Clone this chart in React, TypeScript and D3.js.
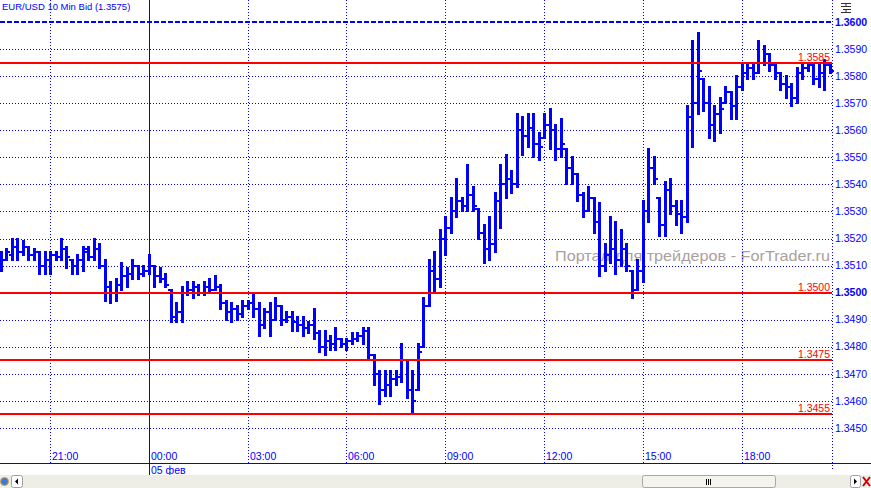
import React from 'react';
import * as d3 from 'd3';

const WIDTH = 871;
const HEIGHT = 488;

// 10 minute EUR/USD bars, 4 Feb 19:30 .. 5 Feb 20:40
const START = new Date(2013, 1, 4, 19, 30);
const BAR_MINUTES = 10;

const highs = [
    1.3515, 1.3516, 1.3520, 1.3520, 1.3519, 1.3517, 1.3516, 1.3515, 1.3515, 1.3515,
    1.3515, 1.3520, 1.3517, 1.3512, 1.3514, 1.3517, 1.3517, 1.3520, 1.3518, 1.3512,
    1.3504, 1.3505, 1.3511, 1.3509, 1.3512, 1.3510, 1.3510, 1.3514, 1.3510, 1.3509,
    1.3507, 1.3501, 1.3496, 1.3502, 1.3504, 1.3504, 1.3503, 1.3504, 1.3505, 1.3506,
    1.3503, 1.3497, 1.3496, 1.3495, 1.3497, 1.3497, 1.3499, 1.3496, 1.3494, 1.3496,
    1.3498, 1.3495, 1.3493, 1.3493, 1.3491, 1.3491, 1.3489, 1.3494, 1.3486, 1.3486,
    1.3484, 1.3487, 1.3483, 1.3483, 1.3485, 1.3485, 1.3487, 1.3487, 1.3477, 1.3471,
    1.3471, 1.3471, 1.3471, 1.3481, 1.3475, 1.3471, 1.3481, 1.3498, 1.3512, 1.3515,
    1.3523, 1.3528, 1.3535, 1.3542, 1.3535, 1.3547, 1.3539, 1.3531, 1.3525, 1.3528,
    1.3537, 1.3547, 1.3551, 1.3545, 1.3566, 1.3565, 1.3566, 1.3566, 1.3559, 1.3566,
    1.3568, 1.3562, 1.3564, 1.3553, 1.3550, 1.3544, 1.3537, 1.3539, 1.3535, 1.3533,
    1.3518, 1.3528, 1.3526, 1.3523, 1.3518, 1.3508, 1.3512, 1.3534, 1.3553, 1.3550,
    1.3535, 1.3541, 1.3542, 1.3534, 1.3534, 1.3569, 1.3593, 1.3596, 1.3579, 1.3576,
    1.3569, 1.3572, 1.3576, 1.3574, 1.3580, 1.3584, 1.3585, 1.3585, 1.3593, 1.3591,
    1.3588, 1.3585, 1.3581, 1.3580, 1.3577, 1.3583, 1.3585, 1.3585, 1.3584, 1.3584,
    1.3586, 1.3585,
];

const lows = [
    1.3508, 1.3512, 1.3512, 1.3512, 1.3514, 1.3512, 1.3512, 1.3507, 1.3507, 1.3507,
    1.3512, 1.3512, 1.3509, 1.3507, 1.3507, 1.3508, 1.3512, 1.3512, 1.3509, 1.3497,
    1.3496, 1.3497, 1.3501, 1.3502, 1.3505, 1.3505, 1.3506, 1.3507, 1.3502, 1.3504,
    1.3502, 1.3489, 1.3489, 1.3489, 1.3499, 1.3498, 1.3499, 1.3499, 1.3500, 1.3501,
    1.3494, 1.3490, 1.3489, 1.3490, 1.3491, 1.3494, 1.3491, 1.3484, 1.3487, 1.3484,
    1.3490, 1.3488, 1.3489, 1.3486, 1.3486, 1.3484, 1.3485, 1.3483, 1.3478, 1.3477,
    1.3479, 1.3479, 1.3480, 1.3479, 1.3481, 1.3482, 1.3481, 1.3475, 1.3466, 1.3459,
    1.3462, 1.3462, 1.3466, 1.3467, 1.3461, 1.3455, 1.3464, 1.3480, 1.3495, 1.3500,
    1.3502, 1.3514, 1.3522, 1.3528, 1.3530, 1.3530, 1.3530, 1.3520, 1.3511, 1.3512,
    1.3515, 1.3524, 1.3535, 1.3537, 1.3539, 1.3551, 1.3554, 1.3550, 1.3549, 1.3557,
    1.3553, 1.3549, 1.3550, 1.3540, 1.3540, 1.3534, 1.3528, 1.3530, 1.3522, 1.3506,
    1.3508, 1.3511, 1.3507, 1.3510, 1.3508, 1.3498, 1.3501, 1.3504, 1.3526, 1.3540,
    1.3521, 1.3521, 1.3529, 1.3525, 1.3522, 1.3526, 1.3554, 1.3566, 1.3567, 1.3557,
    1.3556, 1.3559, 1.3570, 1.3564, 1.3564, 1.3575, 1.3579, 1.3579, 1.3581, 1.3584,
    1.3582, 1.3579, 1.3575, 1.3572, 1.3569, 1.3570, 1.3579, 1.3582, 1.3577, 1.3576,
    1.3575, 1.3581,
];

const opens = [
    1.3510, 1.3512, 1.3514, 1.3517, 1.3515, 1.3517, 1.3514, 1.3515, 1.3510, 1.3512,
    1.3514, 1.3513, 1.3516, 1.3512, 1.3510, 1.3512, 1.3515, 1.3513, 1.3516, 1.3510,
    1.3502, 1.3500, 1.3503, 1.3506, 1.3507, 1.3510, 1.3507, 1.3508, 1.3510, 1.3506,
    1.3505, 1.3501, 1.3491, 1.3493, 1.3500, 1.3501, 1.3502, 1.3500, 1.3502, 1.3501,
    1.3502, 1.3496, 1.3493, 1.3494, 1.3492, 1.3495, 1.3496, 1.3494, 1.3488, 1.3493,
    1.3490, 1.3495, 1.3490, 1.3491, 1.3489, 1.3488, 1.3487, 1.3488, 1.3485, 1.3480,
    1.3482, 1.3481, 1.3483, 1.3481, 1.3482, 1.3483, 1.3484, 1.3486, 1.3477, 1.3470,
    1.3464, 1.3466, 1.3468, 1.3469, 1.3475, 1.3464, 1.3464, 1.3480, 1.3495, 1.3508,
    1.3505, 1.3520, 1.3524, 1.3530, 1.3534, 1.3532, 1.3536, 1.3531, 1.3522, 1.3516,
    1.3518, 1.3534, 1.3540, 1.3542, 1.3540, 1.3560, 1.3558, 1.3561, 1.3555, 1.3557,
    1.3562, 1.3560, 1.3553, 1.3553, 1.3546, 1.3544, 1.3536, 1.3530, 1.3535, 1.3526,
    1.3510, 1.3514, 1.3516, 1.3512, 1.3516, 1.3508, 1.3501, 1.3508, 1.3530, 1.3546,
    1.3535, 1.3525, 1.3538, 1.3532, 1.3529, 1.3528, 1.3565, 1.3570, 1.3579, 1.3570,
    1.3562, 1.3566, 1.3570, 1.3574, 1.3569, 1.3576, 1.3581, 1.3583, 1.3581, 1.3585,
    1.3588, 1.3584, 1.3581, 1.3577, 1.3576, 1.3572, 1.3581, 1.3583, 1.3584, 1.3579,
    1.3581, 1.3584,
];

const closes = [
    1.3512, 1.3515, 1.3517, 1.3515, 1.3517, 1.3514, 1.3515, 1.3510, 1.3512, 1.3514,
    1.3513, 1.3516, 1.3513, 1.3510, 1.3512, 1.3516, 1.3513, 1.3516, 1.3510, 1.3502,
    1.3500, 1.3503, 1.3506, 1.3507, 1.3510, 1.3507, 1.3508, 1.3510, 1.3506, 1.3505,
    1.3503, 1.3491, 1.3493, 1.3500, 1.3501, 1.3502, 1.3500, 1.3502, 1.3501, 1.3502,
    1.3496, 1.3493, 1.3494, 1.3492, 1.3495, 1.3496, 1.3494, 1.3488, 1.3493, 1.3490,
    1.3495, 1.3490, 1.3491, 1.3489, 1.3488, 1.3487, 1.3488, 1.3485, 1.3480, 1.3482,
    1.3481, 1.3483, 1.3481, 1.3482, 1.3483, 1.3484, 1.3486, 1.3477, 1.3470, 1.3464,
    1.3466, 1.3468, 1.3469, 1.3475, 1.3464, 1.3460, 1.3478, 1.3495, 1.3508, 1.3505,
    1.3520, 1.3524, 1.3530, 1.3534, 1.3532, 1.3536, 1.3532, 1.3522, 1.3516, 1.3518,
    1.3534, 1.3540, 1.3542, 1.3540, 1.3560, 1.3558, 1.3561, 1.3555, 1.3554, 1.3562,
    1.3560, 1.3553, 1.3555, 1.3546, 1.3544, 1.3536, 1.3530, 1.3535, 1.3526, 1.3510,
    1.3514, 1.3516, 1.3512, 1.3516, 1.3510, 1.3501, 1.3508, 1.3530, 1.3546, 1.3542,
    1.3525, 1.3538, 1.3532, 1.3529, 1.3528, 1.3565, 1.3570, 1.3582, 1.3570, 1.3562,
    1.3566, 1.3568, 1.3574, 1.3569, 1.3576, 1.3581, 1.3583, 1.3581, 1.3585, 1.3588,
    1.3584, 1.3581, 1.3577, 1.3576, 1.3572, 1.3581, 1.3583, 1.3584, 1.3579, 1.3581,
    1.3584, 1.3582,
];

// horizontal levels drawn by the trader
const levels = [1.3585, 1.3500, 1.3475, 1.3455];

const TITLE = 'EUR/USD 10 Min Bid (1.3575)';
const DATE_LABEL = '05 фев';
const WATERMARK = 'Портал для трейдеров - ForTrader.ru';

const BLUE = '#0000ff';
const RED = '#ff0000';
const FONT = '"Liberation Sans", Arial, sans-serif';

const PLOT_RIGHT = 832;
const AXIS_LINE_Y = 463;

export default function App() {
    const times = highs.map((_, i) => d3.timeMinute.offset(START, i * BAR_MINUTES));

    const x = d3.scaleTime()
        .domain([times[0], times[times.length - 1]])
        .range([0.6, 0.6 + (times.length - 1) * 5.49]);
    const y = d3.scaleLinear()
        .domain([1.345, 1.36])
        .range([428, 22]);

    const priceTicks = y.ticks(15);
    const timeTicks = x.ticks(d3.timeHour.every(3)!);
    const fmtPrice = d3.format('.4f');
    const fmtTime = d3.timeFormat('%H:%M');
    const isMidnight = (t: Date) => t.getHours() === 0;
    const isRound = (p: number) => Math.abs(p * 100 - Math.round(p * 100)) < 1e-6;

    const px = (v: number) => Math.round(v) + 0.5;

    return (
        <svg width={WIDTH} height={HEIGHT}
             style={{position: 'absolute', left: 0, top: 0, background: '#fff'}}
             fontFamily={FONT}>
            <rect width={WIDTH} height={HEIGHT} fill="#fff"/>

            {/* watermark */}
            <text x={555} y={261} fontSize={15} fill="#aaa0a0" textLength={275}
                  lengthAdjust="spacingAndGlyphs">{WATERMARK}</text>

            {/* price grid */}
            {priceTicks.filter(p => p < 1.3599).map(p => (
                <line key={p} x1={0} x2={PLOT_RIGHT} y1={px(y(p))} y2={px(y(p))}
                      stroke={BLUE} strokeDasharray="1,2"/>
            ))}
            <line x1={0} x2={PLOT_RIGHT} y1={Math.round(y(1.36))} y2={Math.round(y(1.36))}
                  stroke={BLUE} strokeWidth={2} strokeDasharray="5,2"/>

            {/* time grid */}
            {timeTicks.map(t => isMidnight(t) ? (
                <line key={+t} x1={px(x(t))} x2={px(x(t))} y1={0} y2={476} stroke={BLUE}/>
            ) : (
                <line key={+t} x1={px(x(t))} x2={px(x(t))} y1={0} y2={AXIS_LINE_Y}
                      stroke={BLUE} strokeDasharray="1,2"/>
            ))}
            <line x1={PLOT_RIGHT + 0.5} x2={PLOT_RIGHT + 0.5} y1={0} y2={470}
                  stroke={BLUE} strokeDasharray="1,2"/>

            {/* OHLC bars */}
            <g fill={BLUE} shapeRendering="crispEdges">
                {times.map((t, i) => {
                    const cx = Math.round(x(t));
                    const yh = Math.round(y(highs[i]));
                    const yl = Math.round(y(lows[i]));
                    const yo = Math.round(y(opens[i]));
                    const yc = Math.round(y(closes[i]));
                    return (
                        <g key={i}>
                            <rect x={cx - 1} y={yh - 1} width={3} height={yl - yh + 2}/>
                            <rect x={cx - 3} y={yo - 1} width={2} height={2}/>
                            <rect x={cx + 2} y={yc - 1} width={2} height={2}/>
                        </g>
                    );
                })}
            </g>

            {/* levels */}
            {levels.map(l => (
                <g key={l}>
                    <rect x={0} y={Math.round(y(l)) - 1} width={PLOT_RIGHT} height={2} fill={RED}/>
                    <text x={830} y={Math.round(y(l)) - 2} fontSize={10.5} fill={RED}
                          textAnchor="end">{fmtPrice(l)}</text>
                </g>
            ))}

            {/* price axis */}
            {priceTicks.map(p => (
                <text key={p} x={835} y={y(p)} dy="0.35em" fontSize={10.5} fill={BLUE}
                      fontWeight={isRound(p) ? 'bold' : 'normal'}>{fmtPrice(p)}</text>
            ))}

            {/* time axis */}
            <line x1={0} x2={WIDTH} y1={AXIS_LINE_Y + 0.5} y2={AXIS_LINE_Y + 0.5} stroke={BLUE}/>
            {timeTicks.map(t => (
                <text key={+t} x={Math.round(x(t)) + 2} y={456} dy="0.35em" fontSize={10.5}
                      fill={BLUE}>{fmtTime(t)}</text>
            ))}
            <text x={151} y={470} dy="0.35em" fontSize={10.5} fill={BLUE}>{DATE_LABEL}</text>

            {/* title */}
            <text x={2} y={10} fontSize={9.5} fill={BLUE}>{TITLE}</text>

            {/* zoom glyph */}
            <g stroke="#333" fill="none" strokeWidth={1}>
                <path d="M841,3.5 h10 M846,3.5 v3 M841,6.5 h10 M843,9.5 h8 M846,9.5 v3 M841,12.5 h10"/>
            </g>

            {/* scroll bar */}
            <rect x={0} y={475} width={WIDTH} height={13} fill="#eeede6"/>
            <circle cx={4.5} cy={481.5} r={4} fill="#3b7bd8" stroke="#e8a030"/>
            <rect x={11.5} y={475.5} width={11} height={12} rx={2} fill="#fff" stroke="#a0a0a0"/>
            <path d="M15,481.5 l3,-3 v6 z" fill="#000"/>
            <rect x={642.5} y={475.5} width={133} height={12} rx={2} fill="#f4f3ee" stroke="#a8a8a0"/>
            <path d="M706.5,479 v6 M708.5,479 v6 M710.5,479 v6" stroke="#000"/>
            <rect x={850.5} y={475.5} width={10} height={12} rx={2} fill="#fff" stroke="#a0a0a0"/>
            <path d="M857,481.5 l-3,-3 v6 z" fill="#000"/>
            <path d="M863,477 l7,9 M870,477 l-7,9" stroke="#d00000" strokeWidth={2}/>
        </svg>
    );
}
